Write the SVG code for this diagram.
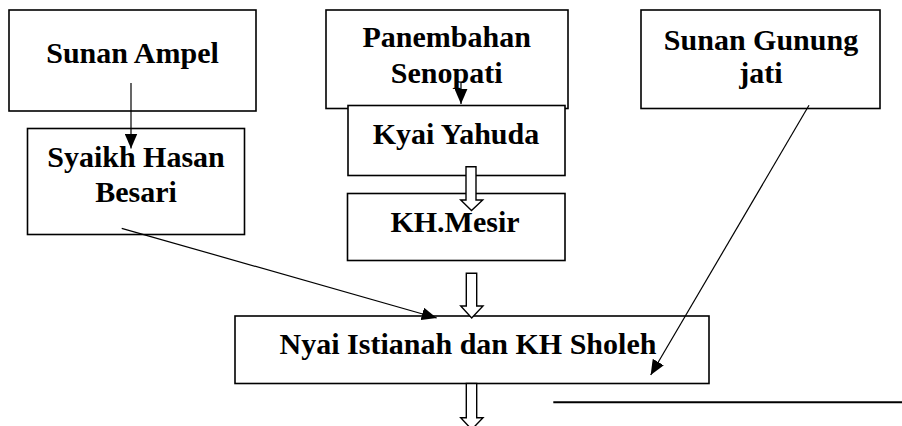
<svg xmlns="http://www.w3.org/2000/svg" width="902" height="426" viewBox="0 0 902 426">
<defs>
<style>
.box{fill:#fff;stroke:#000;stroke-width:1.6}
.t{font-family:"Liberation Serif","Times New Roman",serif;font-weight:bold;font-size:30px;fill:#000;text-anchor:middle}
.ln{stroke:#000;stroke-width:1.2;fill:none}
.blk{fill:#fff;stroke:#000;stroke-width:1.4;stroke-linejoin:miter}
</style>
<marker id="ah" viewBox="0 0 10 10" refX="10" refY="5" markerWidth="10" markerHeight="10" markerUnits="userSpaceOnUse" orient="auto">
<path d="M0,0 L10,5 L0,10 Z" fill="#000"/>
</marker>
<marker id="ahL" viewBox="0 0 14 12" refX="14" refY="6" markerWidth="15" markerHeight="13" markerUnits="userSpaceOnUse" orient="auto">
<path d="M0,0 L14,6 L0,12 Z" fill="#000"/>
</marker>
</defs>
<rect width="902" height="426" fill="#fff"/>
<g id="sunan-ampel">
<rect class="box" x="9" y="10" width="247" height="101"/>
<text class="t" x="132.5" y="63">Sunan Ampel</text>
</g>
<g id="syaikh-hasan-besari">
<rect class="box" x="27.5" y="128.5" width="217" height="106"/>
<text class="t" x="136" y="167">Syaikh Hasan</text>
<text class="t" x="136" y="202">Besari</text>
</g>
<g id="panembahan-senopati">
<rect class="box" x="326" y="10" width="242" height="98.5"/>
<text class="t" x="446.7" y="47">Panembahan</text>
<text class="t" x="446.7" y="83">Senopati</text>
</g>
<g id="kyai-yahuda">
<rect class="box" x="348" y="105.5" width="217" height="70"/>
<text class="t" x="456" y="144">Kyai Yahuda</text>
</g>
<g id="kh-mesir">
<rect class="box" x="347.5" y="193.5" width="217.5" height="67"/>
<text class="t" x="455" y="232">KH.Mesir</text>
</g>
<g id="sunan-gunung-jati">
<rect class="box" x="641" y="10" width="239" height="98.5"/>
<text class="t" x="761" y="49.5">Sunan Gunung</text>
<text class="t" x="761" y="83">jati</text>
</g>
<g id="nyai-istianah-kh-sholeh">
<rect class="box" x="235" y="316" width="474" height="67.5"/>
<text class="t" x="468" y="353.5">Nyai Istianah dan KH Sholeh</text>
</g>
<g id="connectors">
<line class="ln" x1="131" y1="83" x2="131" y2="148.5" marker-end="url(#ahL)"/>
<line class="ln" x1="461" y1="83" x2="461" y2="104" marker-end="url(#ahL)"/>
<line class="ln" x1="121.7" y1="228.3" x2="436.7" y2="318" marker-end="url(#ahL)"/>
<line class="ln" x1="809" y1="105.3" x2="650.7" y2="375" marker-end="url(#ahL)"/>
<path class="blk" d="M466,166.7 H476 V200 H482.7 L471.5,210.5 L460.7,200 H466 Z"/>
<path class="blk" d="M466.3,273.3 H476.7 V306 H483 L471.7,318 L460.7,306 H466.3 Z"/>
<path class="blk" d="M466.3,383.5 H476.7 V417.7 H483 L471.7,429.5 L460.7,417.7 H466.3 Z"/>
<line x1="553.3" y1="402.3" x2="902" y2="402.3" stroke="#000" stroke-width="2"/>
</g>
</svg>
